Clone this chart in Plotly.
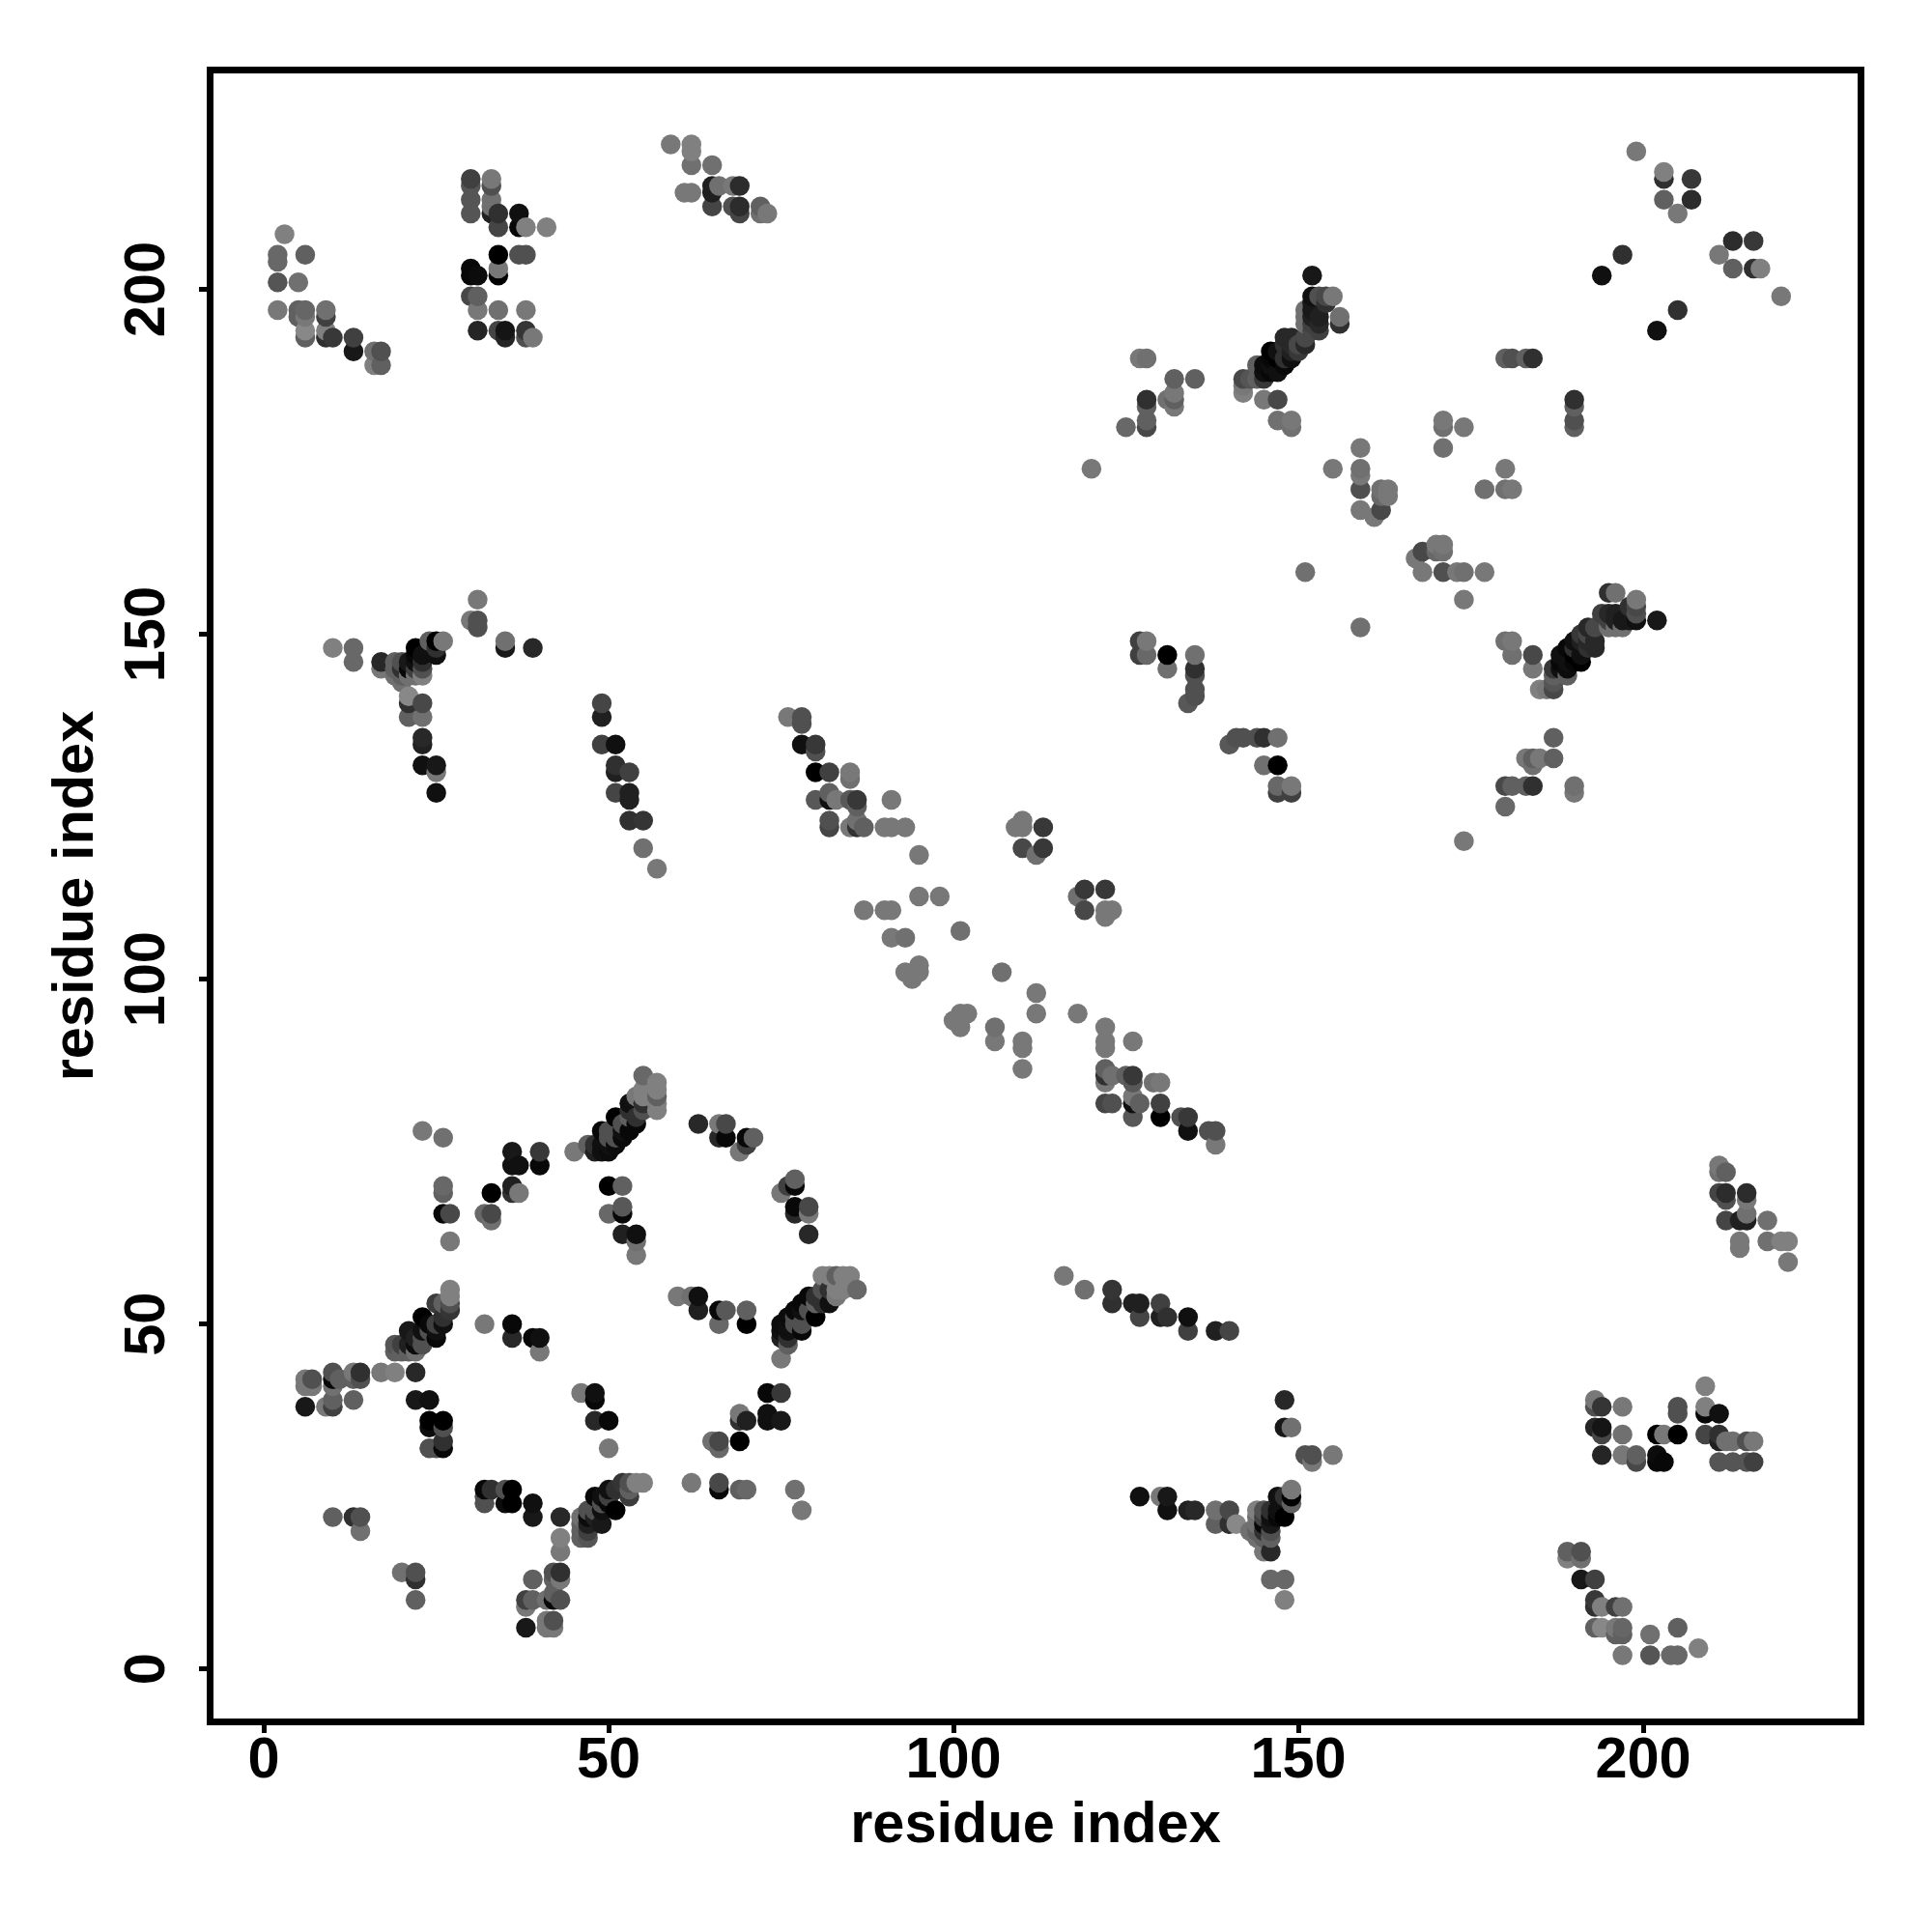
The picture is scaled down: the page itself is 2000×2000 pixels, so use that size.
import numpy as np
import plotly.graph_objects as go

# Contacts (residue i, residue j, grey level) with i < j; the map is symmetric.
block_a = [(3,208,0x80),(2,205,0x68),(2,204,0x68),(6,205,0x60),(2,201,0x55),(5,201,0x70),(2,197,0x78),(5,197,0x60),
           (5,196,0x60),(6,197,0x66),(6,196,0x78),(6,194,0x88),(6,193,0x60),(9,197,0x70),(9,196,0x40),(9,194,0x80),
           (9,193,0x30),(10,193,0x38),(13,193,0x40),(13,191,0x18),(16,191,0x70),(17,191,0x50),(16,189,0x80),(17,189,0x60)]
block_b = [(30,216,0x40),(30,215,0x55),(30,213,0x55),(30,211,0x55),(33,216,0x78),(33,215,0x50),(33,213,0x70),(33,212,0x70),
           (33,211,0x20),(34,211,0x30),(34,209,0x45),(37,211,0x10),(37,209,0x08),(38,209,0x80),(41,209,0x80),(34,205,0x00),
           (37,205,0x50),(38,205,0x50),(30,203,0x08),(30,202,0x08),(31,202,0x0c),(34,202,0x00),(34,203,0x78),(30,199,0x48),
           (31,199,0x60),(31,197,0x78),(34,197,0x70),(38,197,0x78),(31,194,0x25),(34,194,0x45),(35,194,0x15),(35,193,0x25),
           (38,194,0x35),(38,193,0x50),(39,193,0x78)]
block_c = [(59,221,0x78),(62,221,0x80),(62,220,0x80),(62,218,0x70),(65,218,0x70),(61,214,0x78),(62,214,0x78),(65,215,0x20),
           (65,214,0x20),(65,212,0x45),(66,215,0x70),(68,215,0x78),(69,215,0x2c),(68,212,0x50),(69,212,0x2c),(69,211,0x45),
           (72,212,0x60),(72,211,0x70),(73,211,0x78)]
block_d = [(10,148,0x80),(13,148,0x68),(13,146,0x68),(17,146,0x28),(17,145,0x78),(22,148,0x00),(22,147,0x08),(24,149,0x60),
           (25,149,0x00),(26,149,0x78),(25,147,0x10),(25,148,0x30),(23,147,0x10),(23,146,0x30),(23,145,0x50),(23,144,0x80),
           (22,146,0x10),(22,145,0x40),(22,144,0x70),(21,146,0x18),(21,145,0x08),(21,144,0x70),(20,146,0x50),(20,145,0x30),
           (20,144,0x60),(20,143,0x70),(19,146,0x60),(19,145,0x60),(19,144,0x70),(21,141,0x88),(21,140,0x30),(21,138,0x60),
           (23,140,0x48),(23,138,0x70),(23,135,0x28),(23,134,0x20),(23,131,0x10),(25,131,0x18),(25,130,0x78),(25,127,0x10),
           (31,155,0x78),(30,152,0x78),(31,152,0x50),(31,151,0x50),(35,149,0x70),(35,148,0x18),(39,148,0x28)]
block_e = [(49,140,0x45),(49,138,0x20),(49,134,0x40),(51,134,0x10),(51,131,0x30),(51,130,0x20),(53,130,0x40),(51,127,0x45),
           (53,127,0x20),(53,126,0x20),(53,123,0x30),(55,123,0x35),(55,119,0x70),(57,116,0x78)]
block_f = [(76,138,0x78),(78,138,0x50),(78,137,0x50),(78,134,0x10),(80,134,0x38),(80,133,0x50),(80,130,0x00),(82,130,0x40),
           (85,130,0x78),(85,129,0x70),(80,126,0x58),(82,127,0x60),(82,126,0x10),(83,126,0x78),(85,126,0x58),(86,126,0x38),
           (86,125,0x60),(82,123,0x50),(82,122,0x45),(85,122,0x78),(86,123,0x70),(86,122,0x30),(87,122,0x60),(90,122,0x78),
           (91,122,0x78),(91,126,0x78),(93,122,0x78),(95,118,0x78),(95,112,0x78),(98,112,0x78),(87,110,0x78),(90,110,0x78),
           (91,110,0x78),(101,107,0x70),(91,106,0x78),(93,106,0x70),(93,101,0x78),(95,102,0x78),(95,101,0x78),(94,100,0x78)]
block_g = [(109,122,0x78),(110,123,0x78),(110,122,0x78),(113,122,0x38),(110,119,0x48),(112,118,0x70),(113,119,0x38)]
block_h = [(6,42,0x78),(7,42,0x50),(6,41,0x78),(7,41,0x78),(6,38,0x18),(9,38,0x78),(10,43,0x50),(10,42,0x08),(10,41,0x70),
           (11,42,0x60),(10,39,0x60),(10,38,0x40),(13,43,0x78),(13,42,0x60),(14,43,0x30),(14,42,0x50),(13,39,0x60),(17,43,0x78),
           (19,43,0x80),(22,43,0x28),(22,39,0x18),(24,39,0x10),(24,36,0x00),(26,36,0x00),(24,35,0x0c),(26,35,0x50),(24,32,0x50),
           (25,32,0x50),(26,33,0x30),(26,32,0x08),(10,22,0x60),(13,22,0x30),(14,22,0x50),(14,20,0x70)]
block_i = [(27,55,0x80),(27,54,0x80),(27,53,0x50),(27,52,0x35),(25,53,0x3c),(26,53,0x60),(26,51,0x30),(26,50,0x10),(23,51,0x00),
           (25,50,0x40),(25,49,0x10),(25,48,0x08),(24,50,0x08),(24,49,0x50),(21,49,0x18),(22,48,0x20),(22,47,0x0c),(23,49,0x10),
           (23,48,0x50),(23,47,0x50),(19,47,0x55),(19,46,0x60),(20,47,0x40),(20,46,0x60),(21,47,0x20),(21,46,0x60),(22,46,0x70)]
block_j = [(55,86,0x68),(57,85,0x80),(57,84,0x80),(57,83,0x60),(57,82,0x80),(57,81,0x80),(55,84,0x80),(54,83,0x78),(55,83,0x80),
           (55,82,0x30),(55,81,0x50),(53,82,0x10),(53,81,0x30),(54,80,0x30),(54,79,0x08),(51,80,0x00),(53,80,0x60),(52,79,0x50),
           (53,78,0x08),(52,78,0x10),(52,77,0x0a),(49,78,0x08),(50,78,0x50),(50,77,0x50),(51,77,0x50),(50,76,0x10),(51,76,0x0c),
           (45,75,0x78),(47,76,0x60),(48,76,0x30),(49,76,0x10),(48,75,0x20),(49,75,0x10),(50,75,0x0c)]
block_k = [(23,78,0x78),(26,77,0x70),(26,70,0x68),(26,69,0x60),(26,66,0x08),(27,66,0x48),(27,62,0x78),(33,69,0x00),(32,66,0x68),
           (33,66,0x48),(33,65,0x70),(36,75,0x18),(36,73,0x10),(37,73,0x10),(40,75,0x38),(40,73,0x08),(36,70,0x20),(36,69,0x30),
           (37,69,0x78),(32,50,0x78),(36,50,0x08),(36,48,0x28),(39,48,0x08),(40,48,0x10),(40,46,0x78)]
block_l = [(52,63,0x20),(54,63,0x10),(54,62,0x70),(54,60,0x78),(50,70,0x00),(52,70,0x60),(50,66,0x68),(52,67,0x58),(52,66,0x08),
           (63,79,0x28),(66,79,0x78),(67,79,0x48),(66,77,0x28),(67,77,0x08),(70,77,0x08),(71,77,0x60),(69,75,0x78),(70,76,0x40)]
block_m = [(199,220,0x78),(203,217,0x80),(203,216,0x30),(207,216,0x38),(203,213,0x60),(207,213,0x2c),(205,211,0x78),(197,205,0x30),(194,202,0x10)]
block_n = [(152,202,0x18),(155,199,0x78),(154,199,0x48),(153,199,0x50),(152,199,0x10),(152,198,0x18),(154,198,0x30),(156,196,0x70),
           (156,195,0x30),(151,197,0x70),(151,196,0x70),(151,195,0x70),(152,197,0x18),(152,196,0x20),(152,195,0x40),(153,196,0x20),
           (153,195,0x28),(153,194,0x40),(152,194,0x48),(151,193,0x48),(151,192,0x28),(150,192,0x48),(150,191,0x38),(148,193,0x28),
           (149,193,0x28),(148,192,0x30),(149,192,0x28),(149,191,0x20),(149,190,0x10),(146,191,0x00),(147,191,0x10),(147,190,0x00),
           (148,190,0x30),(148,189,0x08),(146,190,0x08),(144,189,0x60),(145,189,0x0c),(145,188,0x10),(147,188,0x10),(146,188,0x08),
           (146,189,0x10),(142,187,0x48),(143,187,0x55),(144,187,0x60),(145,187,0x38),(142,185,0x80),(142,186,0x78),(145,184,0x78),
           (147,184,0x48),(147,181,0x70),(149,181,0x78),(149,180,0x70)]
block_o = [(127,190,0x78),(128,190,0x70),(132,187,0x60),(135,187,0x60),(132,185,0x78),(132,184,0x60),(132,183,0x78),(131,184,0x70),
           (128,184,0x30),(128,183,0x60),(128,181,0x60),(128,180,0x48),(125,180,0x68),(120,174,0x78),(155,174,0x78)]
block_p = [(159,177,0x78),(159,174,0x70),(159,173,0x78),(159,171,0x50),(163,171,0x78),(162,171,0x70),(163,170,0x78),(162,170,0x68),
           (159,168,0x78),(162,168,0x48),(161,167,0x78),(171,181,0x78),(171,180,0x70),(174,180,0x78),(171,177,0x70),(151,159,0x70)]
block_q = [(180,190,0x60),(181,190,0x50),(183,190,0x60),(184,190,0x30)]
block_r = [(127,149,0x40),(128,149,0x78),(127,147,0x40),(128,147,0x68),(131,147,0x00),(131,145,0x70),(135,147,0x70),(135,145,0x30),
           (135,144,0x50),(135,142,0x50),(135,141,0x50),(134,140,0x58)]
blocks = [block_a, block_b, block_c, block_d, block_e, block_f, block_g, block_h, block_i,
          block_j, block_k, block_l, block_m, block_n, block_o, block_p, block_q, block_r]

x_ticks = [0, 50, 100, 150, 200]
y_ticks = [0, 50, 100, 150, 200]
axis_title = "residue index"

residue_i = [c[0] for b in blocks for c in b]
residue_j = [c[1] for b in blocks for c in b]
shade = [c[2] for b in blocks for c in b]

x = np.array(residue_i + residue_j)
y = np.array(residue_j + residue_i)
g = np.array(shade + shade)
order = np.lexsort((y, x))
colors = [f"rgb({v},{v},{v})" for v in g[order]]

fig = go.Figure(go.Scatter(
    x=x[order], y=y[order], mode="markers",
    marker=dict(size=20.5, color=colors, line=dict(width=0)),
    hoverinfo="skip",
))
FONT = dict(family="Liberation Sans", size=59.5, color="black", weight=700)
axis = dict(
    showgrid=False, zeroline=False, showline=True, mirror=True, linecolor="black", linewidth=7,
    ticks="outside", ticklen=8, tickwidth=4.5, tickcolor="black", tickmode="array",
    tickfont=FONT,
)
fig.update_layout(
    width=2000, height=2000, autosize=False, showlegend=False,
    paper_bgcolor="white", plot_bgcolor="white",
    margin=dict(l=212.9, r=85, t=67.6, b=229),
    xaxis=dict(axis, tickvals=x_ticks, ticktext=[str(v) for v in x_ticks], range=[-7.30, 231.09],
               ticklabelstandoff=-25,
               title=dict(text=axis_title, font=FONT, standoff=4)),
    yaxis=dict(axis, tickvals=y_ticks, ticktext=[str(v) for v in y_ticks], tickangle=-90, range=[-7.18, 231.3],
               ticklabelstandoff=12, ticklabelshift=9,
               title=dict(text=axis_title, font=FONT, standoff=3)),
)
fig.write_html("out.html")
